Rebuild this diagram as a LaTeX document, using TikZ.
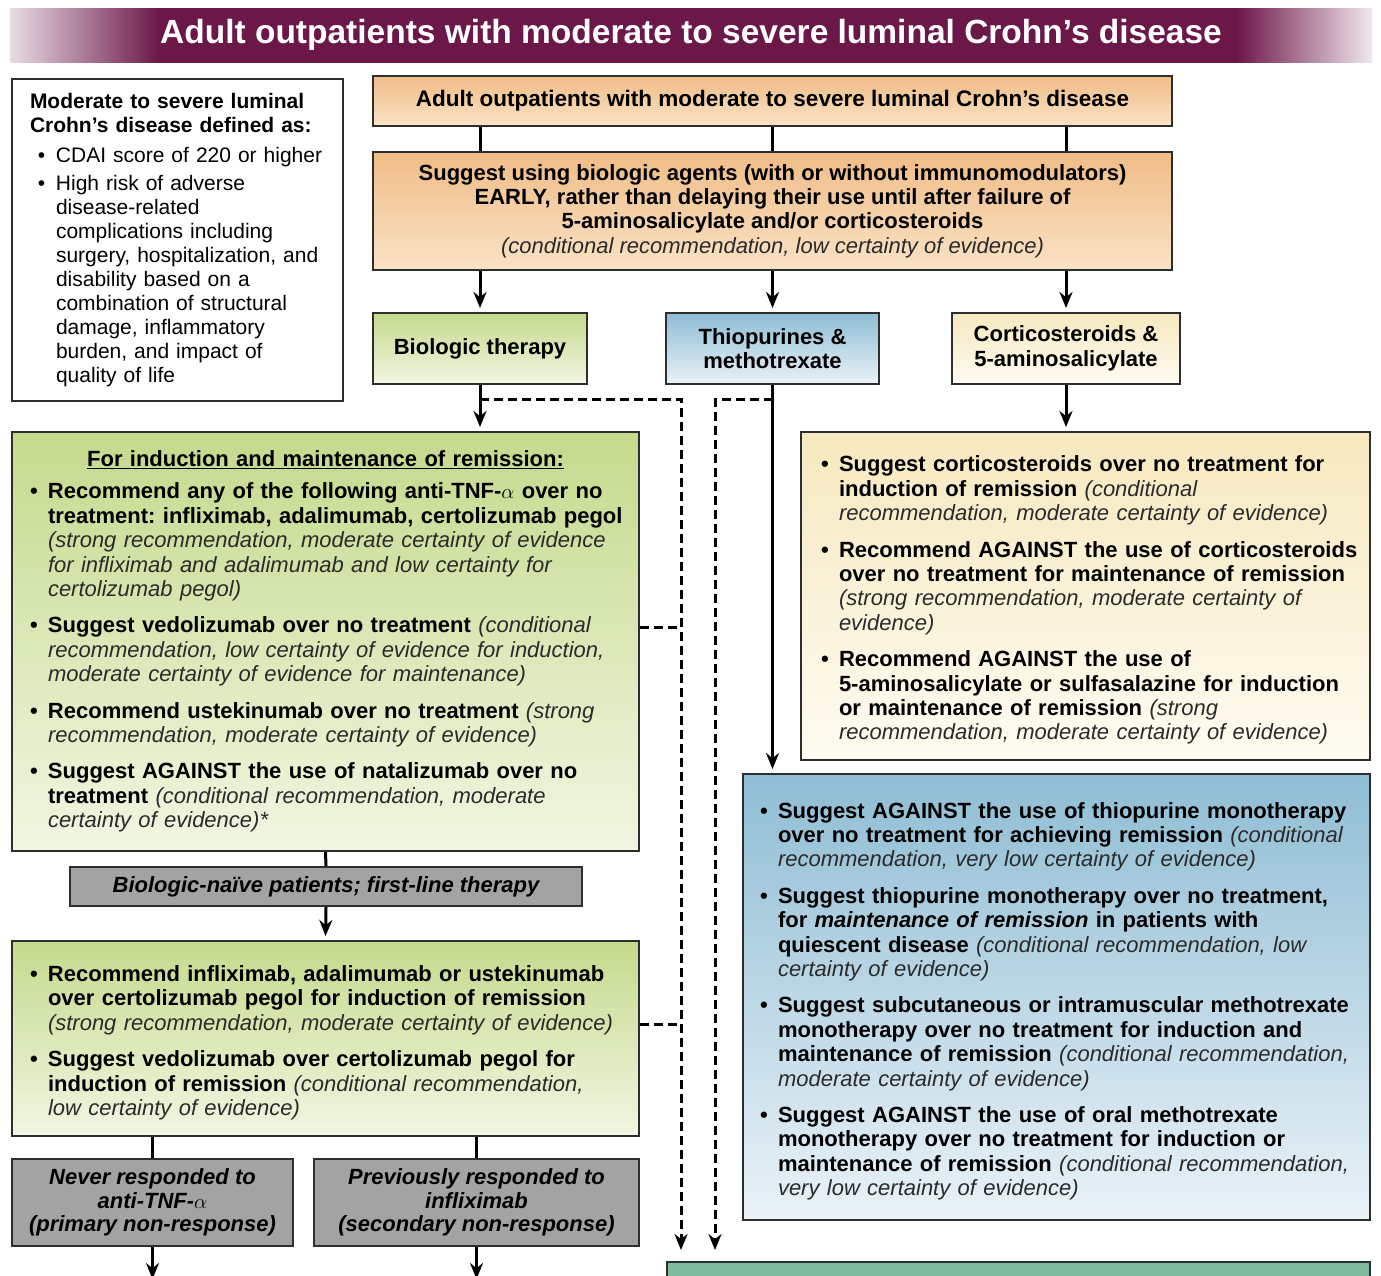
\documentclass[tikz,border=0pt]{standalone}
\usepackage{fontspec}
\setmainfont{Liberation Sans}
\usetikzlibrary{arrows.meta,positioning,calc}

\definecolor{bannerpurple}{HTML}{6B1748}
\definecolor{boxline}{HTML}{2E2E2E}
\definecolor{notegray}{HTML}{2A2A2A}
\definecolor{peachtop}{HTML}{EFBC86}
\definecolor{peachbot}{HTML}{FAE3C6}
\definecolor{greentop}{HTML}{C4DA8C}
\definecolor{greenbot}{HTML}{F1F6E2}
\definecolor{bluetop}{HTML}{8FBDD4}
\definecolor{bluebot}{HTML}{EAF2F7}
\definecolor{creamtop}{HTML}{F6E9BF}
\definecolor{creambot}{HTML}{FEFBF1}
\definecolor{greybox}{HTML}{A3A3A3}
\definecolor{tealbox}{HTML}{7FBA9F}

% banner fill, fading out at both ends
\pgfdeclarehorizontalshading{bannerfade}{100bp}{color(0bp)=(bannerpurple!15);
  color(25bp)=(bannerpurple!15); color(30.5bp)=(bannerpurple);
  color(70bp)=(bannerpurple); color(75bp)=(bannerpurple!10);
  color(100bp)=(bannerpurple!10)}

\newcommand{\note}[1]{{\mdseries\itshape\color{notegray}#1}}
\newcommand{\bitem}[2][12pt]{\par\vspace{#1}\hangindent=18pt\hangafter=1%
  \noindent\makebox[18pt][l]{\textbullet}#2\par}

\begin{document}
\frenchspacing
\hyphenpenalty=10000
\begin{tikzpicture}[x=1pt, y=-1pt,
    box/.style={draw=boxline, line width=2pt, inner sep=0pt, align=center,
                font=\bfseries\fontsize{22}{24.4}\selectfont},
    panel/.style={box, align=left, inner xsep=10pt},
    peach/.style={top color=peachtop, bottom color=peachbot},
    green/.style={top color=greentop, bottom color=greenbot},
    blue/.style={top color=bluetop, bottom color=bluebot},
    cream/.style={top color=creamtop, bottom color=creambot},
    grey/.style={box, fill=greybox, font=\bfseries\itshape\fontsize{22}{23.5}\selectfont},
    link/.style={line width=3pt},
    arr/.style={link, -{Stealth[length=16pt,width=13pt]}, shorten >=4pt},
    dashlink/.style={line width=3pt, dash pattern=on 9pt off 5pt},
    dasharr/.style={dashlink, -{Stealth[length=16pt,width=13pt]}}
]
\useasboundingbox (0,0) rectangle (1381,1275);

% banner
\node[shading=bannerfade, minimum width=1362, minimum height=54,
      text=white, font=\bfseries\fontsize{33.5}{38}\selectfont]
      (title) at (691,35) {Adult outpatients with moderate to severe luminal Crohn’s disease};

% definition box
\node[panel, fill=white, inner xsep=18pt, minimum width=331, minimum height=322, text width=295,
      font=\fontsize{21}{24}\selectfont] (defbox) at (177.5,240) {%
  \textbf{Moderate to severe luminal\newline Crohn’s disease defined as:}\par
  \leftskip=8pt
  \bitem[6pt]{CDAI score of 220 or higher}
  \bitem[4pt]{High risk of adverse\newline disease-related\newline complications including\newline
    surgery, hospitalization, and\newline disability based on a\newline combination of structural\newline
    damage, inflammatory\newline burden, and impact of\newline quality of life}};

% top of the tree
\node[box, peach, minimum width=799, minimum height=50,
      font=\bfseries\fontsize{22.5}{24.4}\selectfont] (pop) at (772.5,101)
  {Adult outpatients with moderate to severe luminal Crohn’s disease};
\node[box, peach, minimum width=799, minimum height=118] (early) at (772.5,211)
  {Suggest using biologic agents (with or without immunomodulators)\\
   EARLY, rather than delaying their use until after failure of\\
   5-aminosalicylate and/or corticosteroids\\
   \note{(conditional recommendation, low certainty of evidence)}};

\node[box, green, minimum width=214, minimum height=71] (bio) at (480,348.5) {Biologic therapy};
\node[box, blue, minimum width=213, minimum height=71] (thio) at (772.5,348.5) {Thiopurines \&\\methotrexate};
\node[box, cream, minimum width=228, minimum height=71] (cort) at (1066,348.5) {Corticosteroids \&\\5-aminosalicylate};

% biologic branch
\node[panel, green, minimum width=627, minimum height=419, text width=607] (bioA) at (325.5,641.5) {%
  \leftskip=8pt
  {\centering\underline{For induction and maintenance of remission:}\par}
  \bitem[8pt]{Recommend any of the following anti-TNF-$\alpha$ over no\newline
    treatment: infliximab, adalimumab, certolizumab pegol\newline
    \note{(strong recommendation, moderate certainty of evidence\newline
    for infliximab and adalimumab and low certainty for\newline certolizumab pegol)}}
  \bitem{Suggest vedolizumab over no treatment \note{(conditional\newline
    recommendation, low certainty of evidence for induction,\newline
    moderate certainty of evidence for maintenance)}}
  \bitem{Recommend ustekinumab over no treatment \note{(strong\newline
    recommendation, moderate certainty of evidence)}}
  \bitem{Suggest AGAINST the use of natalizumab over no\newline
    treatment \note{(conditional recommendation, moderate\newline certainty of evidence)*}}};

\node[grey, minimum width=512, minimum height=39] (naive) at (326,886.5)
  {Biologic-naïve patients; first-line therapy};

\node[panel, green, minimum width=627, minimum height=195, text width=607] (bioB) at (325.5,1038.5) {%
  \leftskip=8pt
  \bitem[0pt]{Recommend infliximab, adalimumab or ustekinumab\newline
    over certolizumab pegol for induction of remission\newline
    \note{(strong recommendation, moderate certainty of evidence)}}
  \bitem{Suggest vedolizumab over certolizumab pegol for\newline
    induction of remission \note{(conditional recommendation,\newline low certainty of evidence)}}};

\node[grey, minimum width=281, minimum height=87] (primary) at (152.5,1202.5)
  {Never responded to\\anti-TNF-$\alpha$\\(primary non-response)};
\node[grey, minimum width=325, minimum height=87] (secondary) at (476.5,1202.5)
  {Previously responded to\\infliximab\\(secondary non-response)};

% corticosteroid and thiopurine branches
\node[panel, cream, minimum width=569, minimum height=328, text width=549] (cortrec) at (1085.5,596) {%
  \leftskip=10pt
  \bitem[0pt]{Suggest corticosteroids over no treatment for\newline
    induction of remission \note{(conditional\newline
    recommendation, moderate certainty of evidence)}}
  \bitem{Recommend AGAINST the use of corticosteroids\newline
    over no treatment for maintenance of remission\newline
    \note{(strong recommendation, moderate certainty of\newline evidence)}}
  \bitem{Recommend AGAINST the use of\newline
    5-aminosalicylate or sulfasalazine for induction\newline
    or maintenance of remission \note{(strong\newline
    recommendation, moderate certainty of evidence)}}};

\node[panel, blue, minimum width=627, minimum height=446, text width=607] (thiorec) at (1056.5,997) {%
  \leftskip=7pt
  \bitem[0pt]{Suggest AGAINST the use of thiopurine monotherapy\newline
    over no treatment for achieving remission \note{(conditional\newline
    recommendation, very low certainty of evidence)}}
  \bitem{Suggest thiopurine monotherapy over no treatment,\newline
    for \textit{maintenance of remission} in patients with\newline
    quiescent disease \note{(conditional recommendation, low\newline certainty of evidence)}}
  \bitem{Suggest subcutaneous or intramuscular methotrexate\newline
    monotherapy over no treatment for induction and\newline
    maintenance of remission \note{(conditional recommendation,\newline
    moderate certainty of evidence)}}
  \bitem{Suggest AGAINST the use of oral methotrexate\newline
    monotherapy over no treatment for induction or\newline
    maintenance of remission \note{(conditional recommendation,\newline
    very low certainty of evidence)}}};

\node[box, fill=tealbox, minimum width=703, minimum height=66] (next) at (1018.5,1295) {};

% free ends of the long connectors
\coordinate (bsplit) at ([yshift=-14pt]bio.south);
\coordinate (tsplit) at ([yshift=-14pt]thio.south);
\coordinate (dlend) at (681,1250);
\coordinate (drend) at (715,1250);
\coordinate (joinA) at ([yshift=14pt]bioA.east);
\coordinate (joinB) at ([yshift=14pt]bioB.east);
\coordinate (outL) at (152.5,1279);
\coordinate (outR) at (476.5,1279);

% connectors
\foreach \n in {bio,thio,cort} {
    \draw[link] (pop.south -| \n) -- (early.north -| \n);
    \draw[arr] (early.south -| \n) -- (\n.north);
}
\draw[arr] (bio.south) -- (bioA.north -| bio);
\draw[arr] (thio.south) -- (thiorec.north -| thio);
\draw[arr] (cort.south) -- (cortrec.north -| cort);
\draw[dasharr] (bsplit) -| (dlend);
\draw[dasharr] (tsplit) -| (drend);
\draw[dashlink] (joinA) -- (joinA -| dlend);
\draw[dashlink] (joinB) -- (joinB -| dlend);
\draw[link] (bioA.south) -- (naive.north);
\draw[arr] (naive.south) -- (bioB.north);
\draw[link] (bioB.south -| primary) -- (primary.north);
\draw[link] (bioB.south -| secondary) -- (secondary.north);
\draw[arr, shorten >=0pt] (primary.south) -- (outL);
\draw[arr, shorten >=0pt] (secondary.south) -- (outR);
\end{tikzpicture}
\end{document}
